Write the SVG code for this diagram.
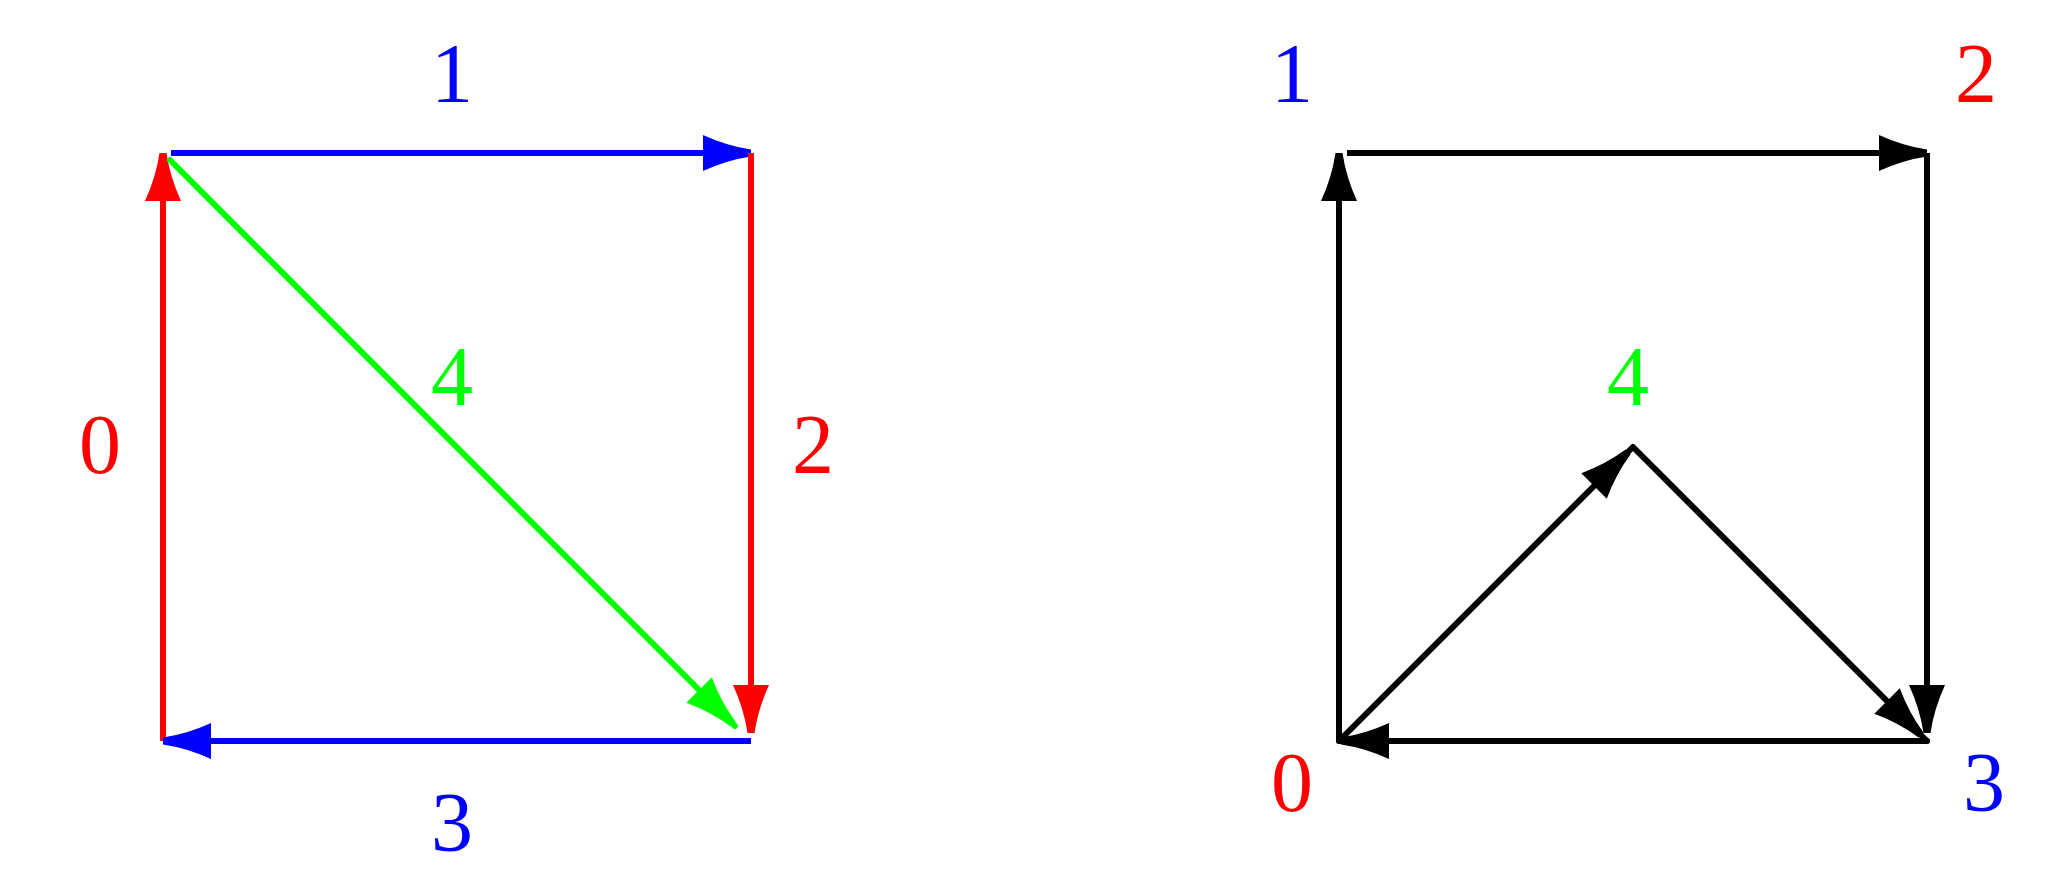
<svg xmlns="http://www.w3.org/2000/svg" xmlns:xlink="http://www.w3.org/1999/xlink" width="2070" height="885" viewBox="0 0 2070 885">
<style>
.lbl{font-family:"Liberation Serif","DejaVu Serif",serif;font-size:84px;text-anchor:middle}
.edge{fill:none;stroke-width:6}
.r{stroke:#ff0000}
.b{stroke:#0000ff}
.g{stroke:#00ff00}
.k{stroke:#000000}
.tr{fill:#ff0000}.tb{fill:#0000ff}.tg{fill:#00ff00}
</style>
<defs>
<path id="ah" d="M0,-3.5 Q-24,-7 -48,-18 L-48,18 Q-24,7 0,3.5 Z" stroke="none"/>
</defs>
<rect width="2070" height="885" fill="#ffffff"/>
<g id="connectors">
<!-- left diagram -->
<line class="edge r" x1="163" y1="741" x2="163" y2="153"/>
<use href="#ah" fill="#ff0000" transform="translate(163,153) rotate(-90)"/>
<line class="edge b" x1="171" y1="153" x2="751" y2="153"/>
<use href="#ah" fill="#0000ff" transform="translate(751,153) rotate(0)"/>
<line class="edge r" x1="751" y1="153" x2="751" y2="733"/>
<use href="#ah" fill="#ff0000" transform="translate(751,733) rotate(90)"/>
<line class="edge b" x1="751" y1="741" x2="163" y2="741"/>
<use href="#ah" fill="#0000ff" transform="translate(163,741) rotate(180)"/>
<line class="edge g" x1="170" y1="160" x2="735" y2="726" stroke-linecap="round"/>
<use href="#ah" fill="#00ff00" transform="translate(733,724) rotate(45)"/>
<!-- right diagram -->
<line class="edge k" x1="1339" y1="741" x2="1339" y2="153"/>
<use href="#ah" fill="#000000" transform="translate(1339,153) rotate(-90)"/>
<line class="edge k" x1="1347" y1="153" x2="1927" y2="153"/>
<use href="#ah" fill="#000000" transform="translate(1927,153) rotate(0)"/>
<line class="edge k" x1="1927" y1="153" x2="1927" y2="733"/>
<use href="#ah" fill="#000000" transform="translate(1927,733) rotate(90)"/>
<line class="edge k" x1="1927" y1="741" x2="1339" y2="741" stroke-linecap="round"/>
<use href="#ah" fill="#000000" transform="translate(1341,741) rotate(180)"/>
<polyline class="edge k" points="1339,741 1633,447 1927,741" stroke-linejoin="round" stroke-linecap="round"/>
<use href="#ah" fill="#000000" transform="translate(1628,452) rotate(-45)"/>
<use href="#ah" fill="#000000" transform="translate(1921,735) rotate(45)"/>
</g>
<g id="left-node-0"><text class="lbl tr" x="100" y="473">0</text></g>
<g id="left-node-1"><text class="lbl tb" x="452" y="102">1</text></g>
<g id="left-node-2"><text class="lbl tr" x="813" y="473">2</text></g>
<g id="left-node-3"><text class="lbl tb" x="452" y="851">3</text></g>
<g id="left-node-4"><text class="lbl tg" x="452" y="405">4</text></g>
<g id="right-node-0"><text class="lbl tr" x="1292" y="811">0</text></g>
<g id="right-node-1"><text class="lbl tb" x="1292" y="102">1</text></g>
<g id="right-node-2"><text class="lbl tr" x="1976" y="102">2</text></g>
<g id="right-node-3"><text class="lbl tb" x="1984" y="811">3</text></g>
<g id="right-node-4"><text class="lbl tg" x="1628" y="405">4</text></g>
</svg>
